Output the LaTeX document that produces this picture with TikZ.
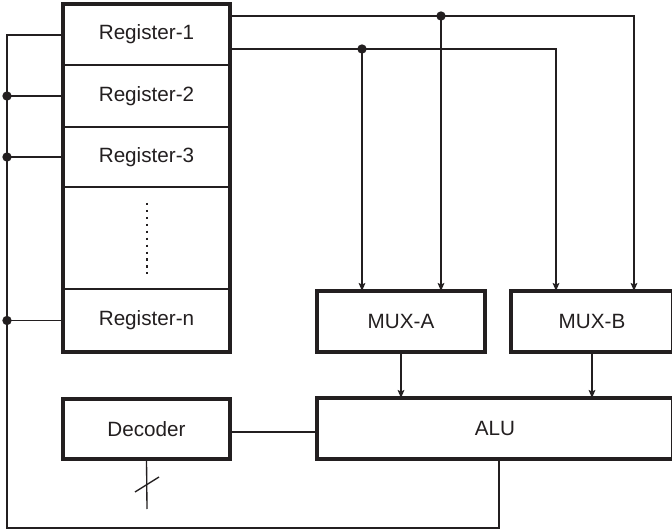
\documentclass[tikz,border=0pt]{standalone}
\usepackage{fontspec}
\setmainfont{Liberation Sans}
\usetikzlibrary{arrows.meta}
\definecolor{ink}{RGB}{35,31,32}
\begin{document}
\begin{tikzpicture}[x=0.75pt,y=-0.75pt,
  every node/.style={font=\fontsize{15.5}{18}\selectfont, text=ink},
  cell/.style={draw=ink, line width=1.1pt, inner sep=0pt, outer sep=0pt, minimum width=125.25pt},
  thickbox/.style={draw=ink, line width=2.3pt, inner sep=0pt, outer sep=0pt},
  wire/.style={draw=ink, line width=1pt},
  arr/.style={wire, -{Stealth[length=6pt,width=5pt,inset=1.2pt]}},
  dotj/.style={fill=ink}
]
\useasboundingbox (0,0) rectangle (672,531);
\clip (0,0) rectangle (672,531);
\fill[white] (0,0) rectangle (672,531);

% register file
\node[cell, minimum height=45.75pt] (reg1) at (146.5,34.5) {Register-1};
\node[cell, minimum height=46.5pt] (reg2) at (146.5,96) {Register-2};
\node[cell, minimum height=45pt] (reg3) at (146.5,157) {Register-3};
\node[cell, minimum height=76.5pt] (regd) at (146.5,238) {};
\node[cell, minimum height=47.25pt] (regn) at (146.5,320.5) {Register-n};
\node[thickbox, minimum width=125.25pt, minimum height=261pt] (regfile) at (146.5,178) {};
\coordinate (dtop) at (147,203);
\coordinate (dbot) at (147,274);
\draw[ink, line width=1pt, dash pattern=on 1.6pt off 3.6pt] (dtop) -- (dbot);

% other blocks
\node[thickbox, minimum width=126pt, minimum height=45.75pt] (muxa) at (401,321.5) {MUX-A};
\node[thickbox, minimum width=121.5pt, minimum height=45.75pt] (muxb) at (592,321.5) {MUX-B};
\node[thickbox, minimum width=267pt, minimum height=45.75pt] (alu) at (495,428.5) {ALU};
\node[thickbox, minimum width=125.25pt, minimum height=45pt] (dec) at (146.5,429) {Decoder};

% top buses
\coordinate (t1) at (441,16);
\coordinate (t1r) at (634,16);
\coordinate (t2) at (362,49);
\coordinate (t2r) at (556,49);
\draw[arr] (reg1.east |- t1) -- (t1r) -- (t1r |- muxb.north);
\draw[arr] (reg1.east |- t2) -- (t2r) -- (t2r |- muxb.north);
\draw[arr] (t1) -- (t1 |- muxa.north);
\draw[arr] (t2) -- (t2 |- muxa.north);
\fill[dotj] (t1) circle (3.5pt);
\fill[dotj] (t2) circle (3.5pt);

% mux to alu
\draw[arr] (muxa.south) -- (muxa.south |- alu.north);
\draw[arr] (muxb.south) -- (muxb.south |- alu.north);

% left bus and feedback
\coordinate (b1) at (7,35);
\coordinate (bbot) at (7,528);
\coordinate (bcorner) at (499,528);
\coordinate (aluout) at (499,459);
\draw[wire] (reg1.west |- b1) -- (b1) -- (bbot) -- (bcorner) -- (aluout);
\draw[wire] (reg2.west) -- (reg2.west -| b1);
\draw[wire] (reg3.west) -- (reg3.west -| b1);
\draw[wire] (regn.west) -- (regn.west -| b1);
\fill[dotj] (reg2.west -| b1) circle (3.5pt);
\fill[dotj] (reg3.west -| b1) circle (3.5pt);
\fill[dotj] (regn.west -| b1) circle (3.5pt);

% decoder
\coordinate (dl) at (230,432);
\draw[wire] (dl) -- (dl -| alu.west);
\coordinate (decin) at (147,509);
\draw[wire] (dec.south) -- (decin);
\coordinate (s1) at (135,492);
\coordinate (s2) at (159,477);
\draw[wire] (s1) -- (s2);
\end{tikzpicture}
\end{document}
